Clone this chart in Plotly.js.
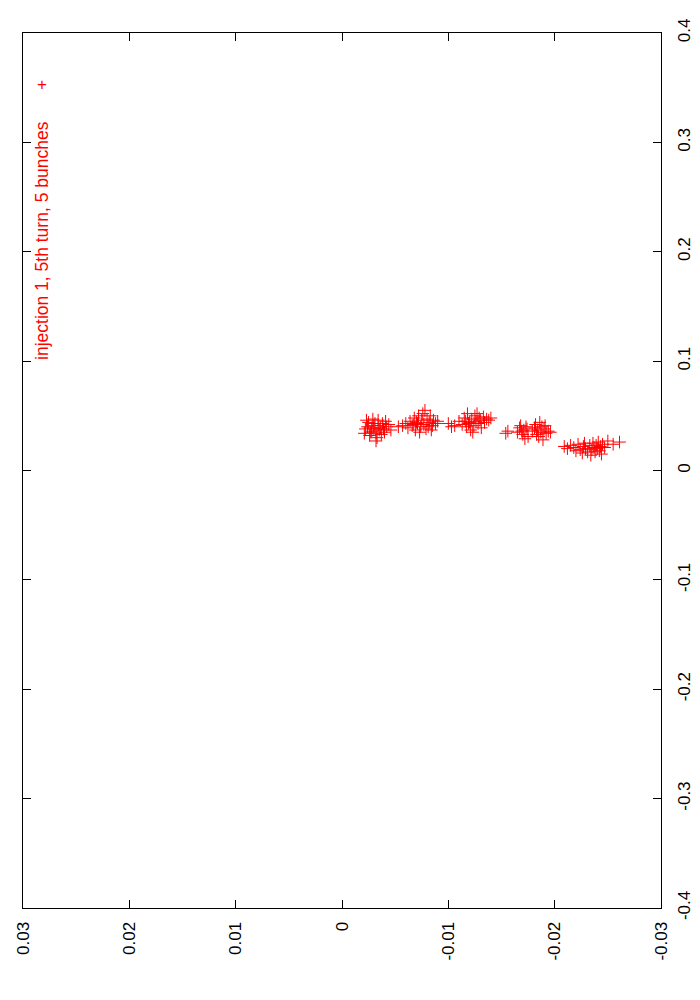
<!DOCTYPE html>
<html>
<head>
<meta charset="utf-8">
<script src="https://cdn.plot.ly/plotly-3.0.1.min.js"></script>
<style>
  html, body { margin: 0; padding: 0; background: #fff; }
  #chart { width: 700px; height: 1000px; }
</style>
</head>
<body>
<div id="chart"></div>
<script>
// five bunches, injection 1, 5th turn (x, y)
const bunch1X = [-0.0022, -0.0025, -0.0028, -0.0030, -0.0032, -0.0034, -0.0036, -0.0038, -0.0040, -0.0042,
  -0.0026, -0.0029, -0.0033, -0.0035, -0.0031, -0.0024, -0.0039, -0.0044, -0.0027, -0.0037,
  -0.0021, -0.0034, -0.0030, -0.0041, -0.0023, -0.0046, -0.0032, -0.0028]
const bunch1Y = [0.038, 0.044, 0.036, 0.041, 0.034, 0.046, 0.039, 0.043, 0.035, 0.040,
  0.032, 0.047, 0.030, 0.037, 0.043, 0.040, 0.038, 0.042, 0.035, 0.033,
  0.034, 0.041, 0.038, 0.045, 0.046, 0.037, 0.027, 0.039]

const bunch2X = [-0.0053, -0.0057, -0.0060, -0.0062, -0.0064, -0.0066, -0.0068, -0.0069, -0.0071, -0.0072,
  -0.0074, -0.0075, -0.0077, -0.0078, -0.0079, -0.0080, -0.0082, -0.0083, -0.0085, -0.0086,
  -0.0088, -0.0090, -0.0070, -0.0073, -0.0081, -0.0067, -0.0076, -0.0084]
const bunch2Y = [0.040, 0.041, 0.043, 0.039, 0.045, 0.041, 0.048, 0.037, 0.043, 0.050,
  0.040, 0.046, 0.042, 0.055, 0.038, 0.047, 0.044, 0.050, 0.041, 0.046,
  0.043, 0.045, 0.044, 0.035, 0.040, 0.042, 0.052, 0.037]

const bunch3X = [-0.0100, -0.0103, -0.0106, -0.0110, -0.0113, -0.0115, -0.0117, -0.0118, -0.0120, -0.0121,
  -0.0122, -0.0124, -0.0125, -0.0126, -0.0128, -0.0129, -0.0130, -0.0131, -0.0133, -0.0134,
  -0.0136, -0.0138, -0.0140, -0.0123, -0.0119, -0.0127, -0.0116]
const bunch3Y = [0.043, 0.040, 0.041, 0.045, 0.042, 0.048, 0.040, 0.052, 0.044, 0.037,
  0.047, 0.041, 0.050, 0.045, 0.043, 0.048, 0.046, 0.039, 0.049, 0.044,
  0.047, 0.046, 0.048, 0.035, 0.043, 0.052, 0.045]

const bunch4X = [-0.0154, -0.0156, -0.0165, -0.0167, -0.0168, -0.0170, -0.0171, -0.0172, -0.0174, -0.0175,
  -0.0179, -0.0181, -0.0182, -0.0184, -0.0185, -0.0186, -0.0187, -0.0188, -0.0189, -0.0190,
  -0.0192, -0.0194, -0.0196, -0.0169, -0.0183, -0.0173, -0.0191]
const bunch4Y = [0.034, 0.036, 0.035, 0.039, 0.041, 0.033, 0.037, 0.029, 0.038, 0.031,
  0.036, 0.039, 0.042, 0.037, 0.031, 0.044, 0.035, 0.040, 0.028, 0.038,
  0.034, 0.036, 0.035, 0.036, 0.033, 0.040, 0.041]

const bunch5X = [-0.0209, -0.0212, -0.0215, -0.0218, -0.0220, -0.0222, -0.0224, -0.0226, -0.0227, -0.0229,
  -0.0231, -0.0233, -0.0234, -0.0235, -0.0236, -0.0237, -0.0238, -0.0239, -0.0240, -0.0241,
  -0.0242, -0.0243, -0.0245, -0.0247, -0.0250, -0.0255, -0.0261, -0.0228, -0.0244]
const bunch5Y = [0.022, 0.020, 0.023, 0.021, 0.018, 0.024, 0.019, 0.016, 0.022, 0.020,
  0.017, 0.023, 0.014, 0.019, 0.025, 0.021, 0.017, 0.023, 0.020, 0.026,
  0.018, 0.022, 0.024, 0.021, 0.027, 0.024, 0.026, 0.025, 0.015]

const xTicks = [0.03, 0.02, 0.01, 0, -0.01, -0.02, -0.03]
const xTickText = ["0.03", "0.02", "0.01", "0", "-0.01", "-0.02", "-0.03"]
const yTicks = [0.4, 0.3, 0.2, 0.1, 0, -0.1, -0.2, -0.3, -0.4]
const yTickText = ["0.4", "0.3", "0.2", "0.1", "0", "-0.1", "-0.2", "-0.3", "-0.4"]

const legendText = "injection 1, 5th turn, 5 bunches"

const xs = [].concat(bunch1X, bunch2X, bunch3X, bunch4X, bunch5X)
const ys = [].concat(bunch1Y, bunch2Y, bunch3Y, bunch4Y, bunch5Y)

const font = { family: "Liberation Sans, Arial, sans-serif", size: 17, color: "#000" }

const trace = {
  x: xs,
  y: ys,
  type: "scatter",
  mode: "markers",
  name: legendText,
  marker: { symbol: "cross-thin", size: 9, color: "#ff0000", line: { color: "#ff0000", width: 1 } },
  showlegend: false,
}

const layout = {
  width: 700,
  height: 1000,
  margin: { l: 23, r: 39, t: 33, b: 92 },
  paper_bgcolor: "#fff",
  plot_bgcolor: "#fff",
  font: font,
  xaxis: {
    range: [0.03, -0.03],
    tickvals: xTicks,
    ticktext: xTickText,
    tickangle: -90,
    ticks: "inside",
    ticklen: 8,
    tickcolor: "#000",
    ticklabelstandoff: 6,
    showline: true,
    linecolor: "#000",
    linewidth: 1,
    mirror: "allticks",
    showgrid: false,
    zeroline: false,
  },
  yaxis: {
    side: "right",
    range: [-0.4, 0.4],
    tickvals: yTicks,
    ticktext: yTickText,
    tickangle: -90,
    ticks: "inside",
    ticklen: 8,
    tickcolor: "#000",
    ticklabelstandoff: 8,
    showline: true,
    linecolor: "#000",
    linewidth: 1,
    mirror: "allticks",
    showgrid: false,
    zeroline: false,
  },
  annotations: [
    {
      xref: "paper", yref: "paper",
      x: 0.03, y: 0.7625,
      xanchor: "center", yanchor: "middle",
      text: legendText,
      textangle: -90,
      showarrow: false,
      font: { family: font.family, size: 17.5, color: "#ff0000" },
    },
    {
      xref: "paper", yref: "paper",
      x: 0.0298, y: 0.9417,
      xanchor: "center", yanchor: "middle",
      text: "+",
      showarrow: false,
      font: { family: font.family, size: 17, color: "#ff0000" },
    },
  ],
}

Plotly.newPlot("chart", [trace], layout, { displayModeBar: false, staticPlot: true })
</script>
</body>
</html>
